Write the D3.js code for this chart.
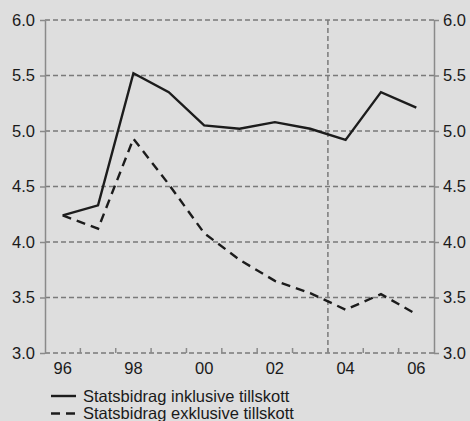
<!DOCTYPE html>
<html>
<head>
<meta charset="utf-8">
<script src="https://cdn.jsdelivr.net/npm/d3@7/dist/d3.min.js"></script>
<style>
  html, body { margin: 0; padding: 0; background: #dedede; }
  svg { display: block; }
  text { font-family: "Liberation Sans", Arial, sans-serif; fill: #1a1a1a; }
</style>
</head>
<body>
<svg id="chart" width="470" height="421"></svg>
<script>
// Years (two-digit labels) and the two series, percent
const years = ["96","97","98","99","00","01","02","03","04","05","06"];
const inklusive = [4.24, 4.33, 5.52, 5.35, 5.05, 5.02, 5.08, 5.02, 4.92, 5.35, 5.21];
const exklusive = [4.24, 4.12, 4.93, 4.52, 4.08, 3.84, 3.65, 3.54, 3.39, 3.53, 3.35];
const yTicks = [3.0, 3.5, 4.0, 4.5, 5.0, 5.5, 6.0];
const xLabelYears = ["96","98","00","02","04","06"];
const markerYear = "04";
const seriesNames = ["Statsbidrag inklusive tillskott", "Statsbidrag exklusive tillskott"];

(function () {
  const svg = d3.select("#chart");
  const plotLeft = 45, plotRight = 434, plotTop = 20, plotBottom = 353;
  const fontSize = 16.5;

  const x = d3.scaleBand().domain(years).range([plotLeft, plotRight]);
  const y = d3.scaleLinear().domain([3, 6]).range([plotBottom, plotTop]);
  const cx = d => x(d) + x.bandwidth() / 2;

  const gridColor = "#7a7a7a";
  const axisColor = "#8a8a8a";

  // Horizontal dashed grid lines
  svg.append("g").selectAll("line").data(yTicks).join("line")
    .attr("x1", plotLeft).attr("x2", plotRight)
    .attr("y1", d => y(d)).attr("y2", d => y(d))
    .attr("stroke", gridColor).attr("stroke-width", 1.5)
    .attr("stroke-dasharray", "5,3");

  // Vertical dashed marker at the start of 2004
  svg.append("line")
    .attr("x1", x(markerYear)).attr("x2", x(markerYear))
    .attr("y1", plotTop).attr("y2", plotBottom)
    .attr("stroke", gridColor).attr("stroke-width", 1.5)
    .attr("stroke-dasharray", "5,3");

  // Left and right value axes
  const fmt = d3.format(".1f");
  const yLeft = svg.append("g").attr("transform", `translate(${plotLeft},0)`)
    .call(d3.axisLeft(y).tickValues(yTicks).tickFormat(fmt).tickSize(5).tickSizeOuter(0).tickPadding(5));
  const yRight = svg.append("g").attr("transform", `translate(${plotRight},0)`)
    .call(d3.axisRight(y).tickValues(yTicks).tickFormat(fmt).tickSize(5).tickSizeOuter(0).tickPadding(4));
  [yLeft, yRight].forEach(g => {
    g.select(".domain").attr("stroke", axisColor).attr("stroke-width", 1.5);
    g.selectAll(".tick line").attr("stroke", axisColor).attr("stroke-width", 1.5);
    g.selectAll("text").attr("font-size", fontSize).attr("fill", "#1a1a1a")
      .style("font-family", "Liberation Sans, Arial, sans-serif");
  });

  // Bottom axis: inward ticks at year boundaries, labels every other year
  const boundaries = years.slice(1).map(d => x(d));
  svg.append("g").selectAll("line").data(boundaries).join("line")
    .attr("x1", d => d).attr("x2", d => d)
    .attr("y1", plotBottom).attr("y2", plotBottom - 5)
    .attr("stroke", axisColor).attr("stroke-width", 1.5);
  svg.append("g").selectAll("text").data(xLabelYears).join("text")
    .attr("x", d => cx(d)).attr("y", plotBottom + 21)
    .attr("text-anchor", "middle").attr("font-size", fontSize)
    .text(d => d);

  // Series lines
  const line = d3.line().x((d, i) => cx(years[i])).y(d => y(d));
  svg.append("path").datum(inklusive)
    .attr("d", line).attr("fill", "none")
    .attr("stroke", "#1c1c1c").attr("stroke-width", 2.4);
  svg.append("path").datum(exklusive)
    .attr("d", line).attr("fill", "none")
    .attr("stroke", "#1c1c1c").attr("stroke-width", 2.4)
    .attr("stroke-dasharray", "9,6");

  // Legend
  const legend = svg.append("g");
  seriesNames.forEach((name, i) => {
    const ly = 396 + i * 17.5;
    legend.append("line")
      .attr("x1", 51).attr("x2", 76).attr("y1", ly).attr("y2", ly)
      .attr("stroke", "#1c1c1c").attr("stroke-width", 2.4)
      .attr("stroke-dasharray", i === 0 ? null : "9,6");
    legend.append("text")
      .attr("x", 83).attr("y", ly + 5.5)
      .attr("font-size", fontSize)
      .text(name);
  });
})();
</script>
</body>
</html>
